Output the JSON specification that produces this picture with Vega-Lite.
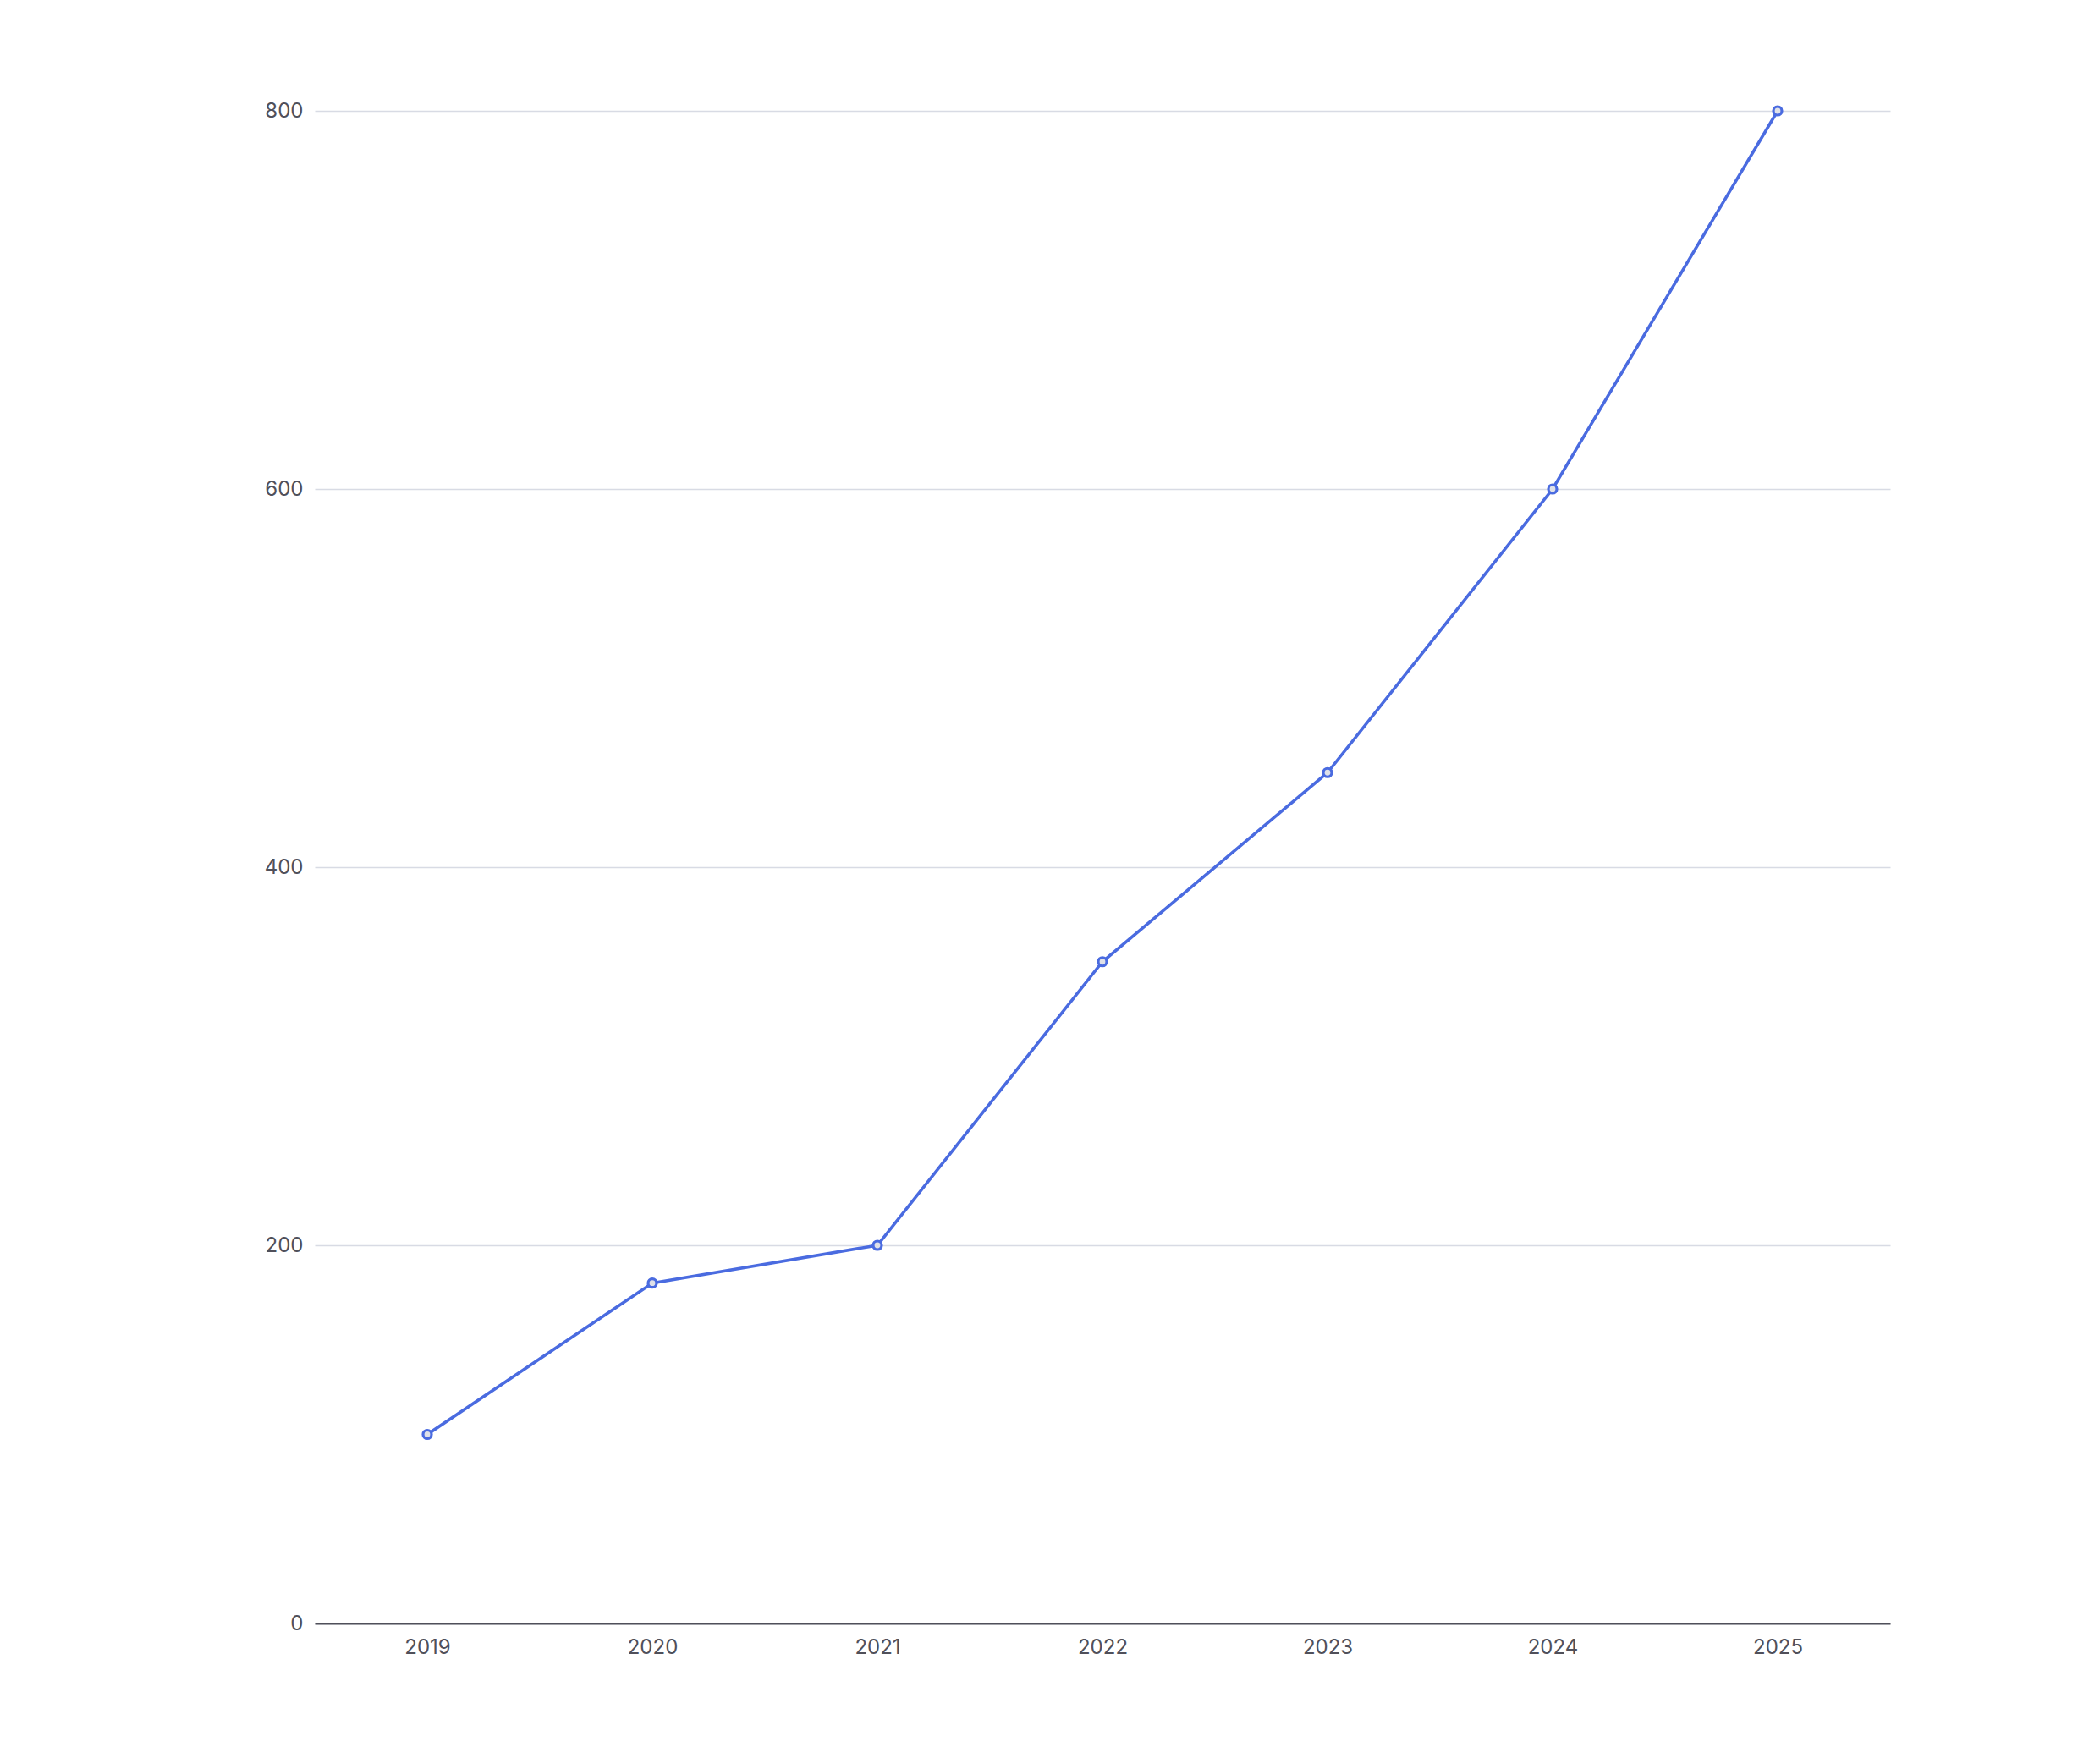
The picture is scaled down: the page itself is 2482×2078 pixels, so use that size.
{
  "$schema": "https://vega.github.io/schema/vega-lite/v6.json",
  "autosize": {"type": "none"},
  "padding": {"left": 372, "top": 131, "right": 248, "bottom": 159},
  "width": 1862,
  "height": 1788,
  "background": "white",
  "config": {
    "view": {"stroke": null},
    "font": "Inter",
    "axis": {"labelFont": "Inter", "labelFontSize": 24, "labelColor": "#50505a", "ticks": false, "title": null}
  },
  "data": {
    "values": [
      {"year": "2019", "value": 100},
      {"year": "2020", "value": 180},
      {"year": "2021", "value": 200},
      {"year": "2022", "value": 350},
      {"year": "2023", "value": 450},
      {"year": "2024", "value": 600},
      {"year": "2025", "value": 800}
    ]
  },
  "encoding": {
    "x": {
      "field": "year", "type": "ordinal",
      "scale": {"type": "point", "padding": 0.5},
      "axis": {"labelAngle": 0, "domainColor": "#50505a", "domainWidth": 2, "grid": false, "labelPadding": 16}
    },
    "y": {
      "field": "value", "type": "quantitative",
      "scale": {"domain": [0, 800], "nice": false},
      "axis": {"values": [0, 200, 400, 600, 800], "domain": false, "grid": true, "gridColor": "#d8dbe4", "gridWidth": 1.6, "labelPadding": 14}
    }
  },
  "layer": [
    {"mark": {"type": "line", "color": "#4a6be0", "strokeWidth": 3.6}},
    {"mark": {"type": "point", "filled": true, "fill": "#dfe1e8", "stroke": "#4a6be0", "strokeWidth": 3.2, "size": 100, "opacity": 1}}
  ]
}
